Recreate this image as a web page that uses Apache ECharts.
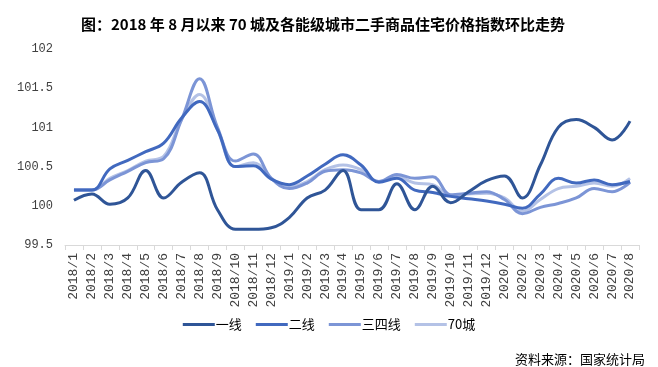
<!DOCTYPE html>
<html>
<head>
<meta charset="utf-8">
<script src="https://cdn.jsdelivr.net/npm/echarts@6/dist/echarts.min.js"></script>
<style>html,body{margin:0;padding:0;background:#fff;}#c{width:658px;height:367px;}</style>
</head>
<body>
<div id="c"></div>
<script>
var categories = ['2018/1','2018/2','2018/3','2018/4','2018/5','2018/6','2018/7','2018/8','2018/9','2018/10','2018/11','2018/12',
  '2019/1','2019/2','2019/3','2019/4','2019/5','2019/6','2019/7','2019/8','2019/9','2019/10','2019/11','2019/12',
  '2020/1','2020/2','2020/3','2020/4','2020/5','2020/6','2020/7','2020/8'];
var tier1 = [100.07,100.15,100.02,100.1,100.45,100.1,100.3,100.42,99.95,99.7,99.7,99.72,
  99.85,100.1,100.2,100.45,99.95,99.95,100.28,99.95,100.25,100.04,100.18,100.32,
  100.38,100.1,100.52,101.0,101.1,101.0,100.84,101.08];
var tier2 = [100.2,100.2,100.47,100.58,100.69,100.8,101.12,101.33,100.97,100.5,100.51,100.34,
  100.27,100.38,100.53,100.65,100.52,100.3,100.35,100.2,100.17,100.12,100.09,100.06,
  100.02,99.97,100.15,100.35,100.29,100.33,100.27,100.31];
var tier34 = [100.2,100.2,100.33,100.44,100.55,100.6,101.1,101.62,101.0,100.57,100.66,100.35,
  100.22,100.29,100.44,100.46,100.42,100.31,100.4,100.35,100.37,100.14,100.16,100.18,
  100.08,99.9,99.98,100.03,100.1,100.22,100.18,100.3];
var city70 = [100.2,100.2,100.35,100.45,100.57,100.63,101.1,101.42,100.97,100.5,100.55,100.35,
  100.24,100.31,100.46,100.52,100.46,100.31,100.37,100.29,100.27,100.13,100.15,100.16,
  100.1,99.93,100.08,100.22,100.25,100.29,100.25,100.35];
var yTicks = [99.5,100,100.5,101,101.5,102];
var names = ['一线','二线','三四线','70城'];
var colors = ['#2F5597','#4169BF','#7C95D6','#B4C2E6'];
var seriesData = [tier1, tier2, tier34, city70];

var chart = echarts.init(document.getElementById('c'), null, {renderer:'canvas'});
var fontFam = '"Noto Sans CJK SC", sans-serif';
var series = names.map(function(n,i){
  return {name:n, type:'line', smooth:0.4, symbol:'none', data:seriesData[i],
    lineStyle:{width:3, color:colors[i]}, itemStyle:{color:colors[i]}, z: 10 - i};
});
chart.setOption({
  animation:false,
  backgroundColor:'#fff',
  title:[{text:'图：2018 年 8 月以来 70 城及各能级城市二手商品住宅价格指数环比走势', left:318, textAlign:'center', top:12,
    textStyle:{fontFamily:fontFam, fontSize:15, fontWeight:'bold', color:'#000'}},
    {text:'资料来源：国家统计局', right:8, top:348, textStyle:{fontFamily:fontFam, fontSize:13, fontWeight:'normal', color:'#000'}}],
  legend:{data:names, left:'center', top:313, itemWidth:32, itemHeight:3, itemGap:14, icon:'rect',
    textStyle:{fontFamily:fontFam, fontSize:13, color:'#000', padding:[0,0,0,-4]}},
  grid:{left:65, right:19, top:49, bottom:122},
  xAxis:{type:'category', data:categories, boundaryGap:true,
    axisLine:{lineStyle:{color:'#D9D9D9'}}, axisTick:{show:true, length:5, lineStyle:{color:'#D9D9D9'}},
    axisLabel:{rotate:90, interval:0, fontFamily:'"Liberation Mono", monospace', fontSize:13, color:'#404040', margin:8}},
  yAxis:{type:'value', min:yTicks[0], max:yTicks[yTicks.length-1], interval:0.5,
    axisLine:{show:false}, axisTick:{show:false}, splitLine:{show:false},
    axisLabel:{fontFamily:'"Liberation Mono", monospace', fontSize:12, color:'#404040', margin:12,
      formatter:function(v){ return String(Math.round(v*10)/10); }}},
  series:series
});
</script>
</body>
</html>
